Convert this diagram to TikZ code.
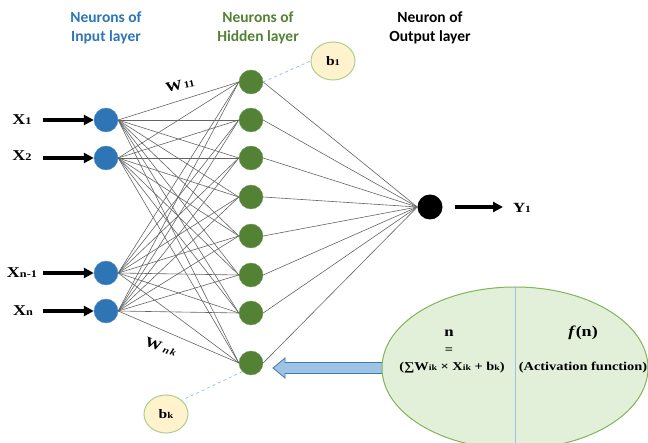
\documentclass[tikz,border=0pt]{standalone}
\usepackage{fontspec}
\usepackage{graphicx}
\setmainfont[FakeStretch=1.2]{Liberation Serif}
\newfontfamily\hdr{Carlito}
\usetikzlibrary{shapes.geometric,arrows.meta}
\definecolor{inblue}{RGB}{46,117,182}
\definecolor{hidgreen}{RGB}{84,130,53}
\definecolor{biasfill}{RGB}{255,242,204}
\definecolor{biasdraw}{RGB}{169,209,142}
\definecolor{ellfill}{RGB}{226,240,217}
\definecolor{elldraw}{RGB}{130,180,90}
\definecolor{dashblue}{RGB}{157,195,230}
\definecolor{arrfill}{RGB}{157,195,230}
\definecolor{arrdraw}{RGB}{70,120,170}
\definecolor{edgegray}{RGB}{100,100,100}
\newcommand{\sbs}[1]{\scalebox{0.68}{#1}}
\tikzset{
  innode/.style={circle,fill=inblue,draw=inblue!80!white,minimum size=24,inner sep=0},
  hidnode/.style={circle,fill=hidgreen,draw=hidgreen!80!white,minimum size=24,inner sep=0},
  outnode/.style={circle,fill=black,minimum size=25,inner sep=0},
  biasnode/.style={ellipse,fill=biasfill,draw=biasdraw,line width=1pt,minimum width=44,minimum height=38,inner sep=0,font=\bfseries\fontsize{13}{13}\selectfont},
  hdrtext/.style={align=center,font=\hdr\bfseries\fontsize{15.5}{19}\selectfont},
  xlab/.style={font=\bfseries\fontsize{15}{15}\selectfont},
  wire/.style={draw=edgegray,line width=0.6pt},
  inarrow/.style={-{Triangle[length=10pt,width=10pt]},line width=3.2pt},
  biaslink/.style={draw=dashblue,dashed,line width=0.8pt},
  wlab/.style={font=\bfseries\fontsize{14}{14}\selectfont},
  elltext/.style={font=\bfseries\fontsize{12}{12}\selectfont}
}
\begin{document}
\begin{tikzpicture}[x=1pt,y=-1pt]
\useasboundingbox (0,0) rectangle (648,443);
% headers
\node[hdrtext,text=inblue] (hin) at (106,28) {Neurons of\\Input layer};
\node[hdrtext,text=hidgreen] (hhid) at (258,28) {Neurons of\\Hidden layer};
\node[hdrtext,text=black] (hout) at (430,28) {Neuron of\\Output layer};
% input nodes
\node[innode] (i1) at (106,120) {};
\node[innode] (i2) at (106,158) {};
\node[innode] (i3) at (106,273) {};
\node[innode] (i4) at (106,311) {};
% hidden nodes
\foreach \k/\y in {1/82,2/120,3/158,4/197,5/236,6/275,7/313,8/363}{
  \node[hidnode] (h\k) at (251,\y) {};
}
% output node
\node[outnode] (o) at (430,207) {};
% connections
\foreach \i in {1,...,4}{
  \foreach \k in {1,...,8}{
    \draw[wire] (i\i.east) -- (h\k.west);
  }
}
\foreach \k in {1,...,8}{
  \draw[wire] (h\k.east) -- (o.west);
}
% input labels and arrows
\node[xlab] (x1) at (22,120) {X\sbs{1}};
\node[xlab] (x2) at (22,156) {X\sbs{2}};
\node[xlab] (x3) at (22,273) {X\sbs{n-1}};
\node[xlab] (x4) at (23,311) {X\sbs{n}};
\coordinate (a1) at (43,120);
\coordinate (a2) at (43,158);
\coordinate (a3) at (43,273);
\coordinate (a4) at (43,311);
\foreach \i in {1,...,4}{
  \draw[inarrow] (a\i) -- (i\i.west);
}
% output arrow
\coordinate (ys) at (455,207);
\coordinate (ye) at (503,207);
\draw[inarrow] (ys) -- (ye);
\node[font=\bfseries\fontsize{14}{14}\selectfont] (y1) at (522,208) {Y\sbs{1}};
% weight labels
\node[wlab,rotate=12] (w11) at (180,85) {W\kern1.5pt\sbs{11}};
\node[wlab,rotate=-20] (wnk) at (161,347) {W\kern2.5pt\sbs{\itshape n\kern2pt k}};
% biases
\node[biasnode] (b1) at (333,61) {b\sbs{1}};
\node[biasnode] (bk) at (166,414) {b\sbs{k}};
\draw[biaslink] (h1.east) -- (b1.west);
\draw[biaslink] (h8.south west) -- (bk.north east);
% block arrow (shape)
\coordinate (blk) at (273,368);
\draw[fill=arrfill,draw=arrdraw,line width=0.8pt,line join=miter]
  (blk) -- ++(12,-10) -- ++(0,4.5) -- ++(100,0) -- ++(0,11) -- ++(-100,0) -- ++(0,4.5) -- cycle;
% ellipse
\node[ellipse,fill=ellfill,draw=elldraw,line width=1pt,minimum width=266,minimum height=162,inner sep=0] (ell) at (515,368) {};
\draw[draw=dashblue,line width=0.8pt] (ell.north) -- (ell.south);
\node[elltext,font=\bfseries\fontsize{14}{14}\selectfont] (nn) at (449,333) {n};
\node[elltext] (eq) at (449,351) {=};
\node[elltext] (sum) at (452,368) {(∑W\sbs{ik} × X\sbs{ik} + b\sbs{k})};
\node[elltext,font=\bfseries\fontsize{15}{15}\selectfont] (fn) at (583,333) {\textit{f}(n)};
\node[elltext] (act) at (583,368) {(Activation function)};
\end{tikzpicture}
\end{document}
